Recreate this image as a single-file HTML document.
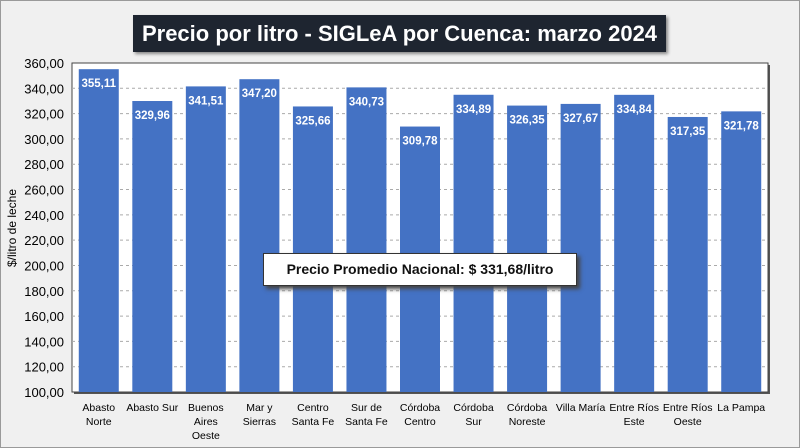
<!DOCTYPE html>
<html><head><meta charset="utf-8"><style>
html,body{margin:0;padding:0;}
body{width:800px;height:448px;background:#f0f0f0;font-family:"Liberation Sans",sans-serif;position:relative;overflow:hidden;}
#frame{position:absolute;left:0;top:0;width:798px;height:446px;border:1px solid #9a9a9a;}
#title{position:absolute;left:133px;top:15px;width:533px;height:37px;background:#1e2530;color:#fff;font-weight:bold;font-size:22px;line-height:37px;text-align:center;box-shadow:2px 2px 3px #888;}
#note{position:absolute;left:263px;top:253px;width:312px;height:31px;background:#fff;border:1px solid #333;box-shadow:3px 3px 4px #444;font-weight:bold;font-size:14px;line-height:31px;text-align:center;color:#111;}
</style></head><body>
<div id="frame"></div>
<div id="title">Precio por litro - SIGLeA por Cuenca: marzo 2024</div>
<svg id="chart" width="800" height="448" style="position:absolute;left:0;top:0"></svg>
<div id="note">Precio Promedio Nacional: $ 331,68/litro</div>
<script>
const categories=[["Abasto","Norte"],["Abasto Sur"],["Buenos","Aires","Oeste"],["Mar y","Sierras"],["Centro","Santa Fe"],["Sur de","Santa Fe"],["Córdoba","Centro"],["Córdoba","Sur"],["Córdoba","Noreste"],["Villa María"],["Entre Ríos","Este"],["Entre Ríos","Oeste"],["La Pampa"]];
const values=[355.11,329.96,341.51,347.20,325.66,340.73,309.78,334.89,326.35,327.67,334.84,317.35,321.78];
const ticks=[100,120,140,160,180,200,220,260-20,260,280,300,320,340,360];
const NS="http://www.w3.org/2000/svg";
const svg=document.getElementById('chart');
const L=72,R=768,T=63,B=392,yMin=100,yMax=360;
const y=v=>B-(v-yMin)/(yMax-yMin)*(B-T);
const bw=(R-L)/categories.length;
const x=i=>L+i*bw;
const fmt=v=>v.toFixed(2).replace('.',',');
function mk(t,a){const e=document.createElementNS(NS,t);for(const k in a)e.setAttribute(k,a[k]);svg.appendChild(e);return e;}
const sh=mk('rect',{x:L+2,y:T+2,width:R-L,height:B-T,fill:'#555'});


const pa=mk('rect',{x:L,y:T,width:R-L,height:B-T,fill:'#fff',stroke:'#444','stroke-width':1});


ticks.forEach(t=>{
  if(t>yMin&&t<yMax){const g=mk('line',{x1:L,x2:R,y1:y(t),y2:y(t),stroke:'#aaa','stroke-dasharray':'3,3'});
  
  }
  const tl=mk('text',{x:L-8,y:y(t)+5,'text-anchor':'end','font-size':13,fill:'#000'});
  tl.textContent=fmt(t);
  
  
});
values.forEach((v,i)=>{
  const cx=x(i)+bw/2,bwid=40;
  const r=mk('rect',{x:cx-bwid/2,y:y(v),width:bwid,height:B-y(v),fill:'#4472c4'});
  
  
  const lb=mk('text',{x:cx,y:y(v)+18,'text-anchor':'middle','font-size':11.5,'font-weight':'bold',fill:'#fff'});
  lb.textContent=fmt(v);
  
  
  categories[i].forEach((ln,j)=>{
    const c=mk('text',{x:cx,y:411+j*14,'text-anchor':'middle','font-size':10.5,fill:'#000'});
    c.textContent=ln;
    
    
  });
});
const yt=mk('text',{x:0,y:0,'text-anchor':'middle','font-size':12,fill:'#000',transform:'translate(16,228) rotate(-90)'});
yt.textContent='$/litro de leche';


</script>
</body></html>
